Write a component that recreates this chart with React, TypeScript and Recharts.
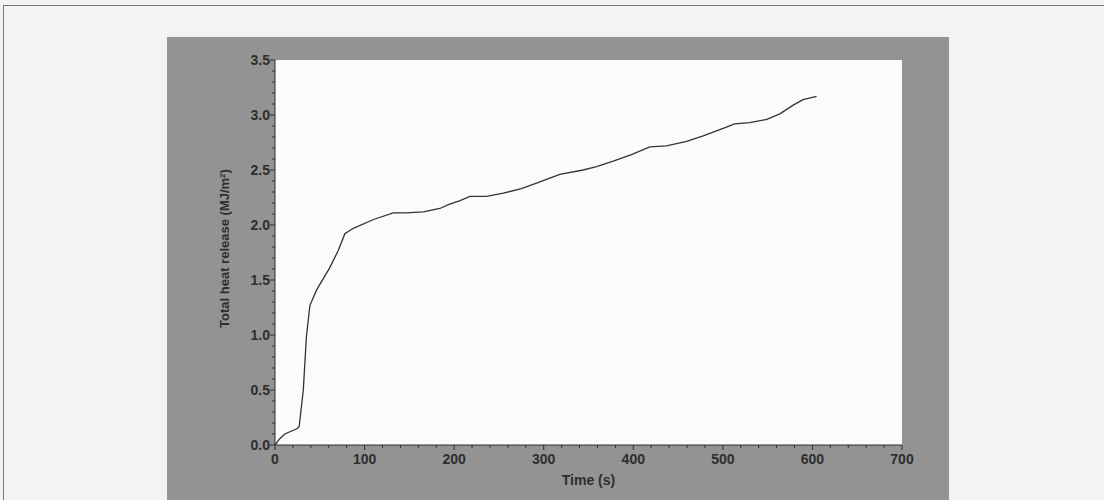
import React from 'react';
import { LineChart, Line, XAxis, YAxis, CartesianGrid } from 'recharts';

// Time (s) vs total heat release (MJ/m²)
const timeS = [0, 5.6, 11, 25, 27, 31.6, 35, 39, 46.5, 61, 70.7, 78, 87.4, 110, 132, 146, 165.5, 184, 195, 206, 217.6, 236, 255, 275, 292, 318, 344, 359, 377.6, 398, 418.5, 437, 459.5, 478, 504, 513, 530, 549, 563.6, 578.5, 589.6, 604.6];
const totalHeat = [0, 0.06, 0.1, 0.15, 0.17, 0.5, 0.98, 1.27, 1.41, 1.61, 1.77, 1.92, 1.97, 2.05, 2.11, 2.11, 2.12, 2.15, 2.19, 2.22, 2.26, 2.26, 2.29, 2.33, 2.38, 2.46, 2.5, 2.53, 2.58, 2.64, 2.71, 2.72, 2.76, 2.81, 2.89, 2.92, 2.93, 2.96, 3.01, 3.09, 3.14, 3.17];

const xMajor = [0, 100, 200, 300, 400, 500, 600, 700];
const yMajor = [0, 0.5, 1.0, 1.5, 2.0, 2.5, 3.0, 3.5];

// minor ticks every 20 s and every 0.1 MJ/m²
const xTicks = Array.from({ length: 36 }, (_, i) => i * 20);
const yTicks = Array.from({ length: 36 }, (_, i) => i / 10);

const data = timeS.map((t, i) => ({ t, thr: totalHeat[i] }));

const INK = '#2e2e2e';
const FONT = '"Liberation Sans", Arial, sans-serif';
const TICK_SIZE = 5;
const TICK_MARGIN = 3;

const isMajor = (v: number, majors: number[]) => majors.some(m => Math.abs(m - v) < 1e-6);

// tick line + label; minor ticks are shorter and unlabeled
const XTick = (props: any) => {
  const { x, y, payload } = props;
  const axisY = y - TICK_SIZE - TICK_MARGIN;
  const major = isMajor(payload.value, xMajor);
  return (
    <g>
      <line x1={x} x2={x} y1={axisY} y2={axisY + (major ? 5 : 3)} stroke={INK} />
      {major && (
        <text x={x} y={axisY + 19} textAnchor="middle" fill={INK} fontSize={14} fontWeight="bold" fontFamily={FONT}>
          {payload.value}
        </text>
      )}
    </g>
  );
};

const YTick = (props: any) => {
  const { x, y, payload } = props;
  const axisX = x + TICK_SIZE + TICK_MARGIN;
  const major = isMajor(payload.value, yMajor);
  return (
    <g>
      <line x1={axisX} x2={axisX - (major ? 5 : 3)} y1={y} y2={y} stroke={INK} />
      {major && (
        <text x={axisX - 5} y={y + 5} textAnchor="end" fill={INK} fontSize={14} fontWeight="bold" fontFamily={FONT}>
          {payload.value.toFixed(1)}
        </text>
      )}
    </g>
  );
};

const YTitle = (props: any) => {
  const { viewBox } = props;
  const cx = viewBox.x + 14;
  const cy = viewBox.y + viewBox.height / 2 - 4;
  return (
    <text x={cx} y={cy} transform={`rotate(-90, ${cx}, ${cy})`} textAnchor="middle" fill={INK} fontSize={13} fontWeight="bold" fontFamily={FONT}>
      Total heat release (MJ/m<tspan dy={-4} fontSize={8}>2</tspan><tspan dy={4}>)</tspan>
    </text>
  );
};

const XTitle = (props: any) => {
  const { viewBox } = props;
  return (
    <text x={viewBox.x + viewBox.width / 2} y={viewBox.y + 40} textAnchor="middle" fill={INK} fontSize={14} fontWeight="bold" fontFamily={FONT}>
      Time (s)
    </text>
  );
};

export default function App() {
  return (
    <div style={{ position: 'absolute', left: 0, top: 0, width: 1104, height: 500, background: '#f3f3f3', overflow: 'hidden' }}>
      <div style={{ position: 'absolute', left: 3, top: 5, width: 1110, height: 510, border: '1px solid #777' }} />
      <div style={{ position: 'absolute', left: 167, top: 37, width: 782, height: 463, background: '#939393' }}>
        <LineChart width={782} height={463} data={data} margin={{ top: 23, right: 47, bottom: 25, left: 48 }}>
          <CartesianGrid horizontal={false} vertical={false} fill="#fbfbfb" />
          <XAxis
            type="number"
            dataKey="t"
            domain={[0, 700]}
            ticks={xTicks}
            interval={0}
            height={30}
            stroke={INK}
            tickLine={false}
            tickSize={TICK_SIZE}
            tickMargin={TICK_MARGIN}
            tick={<XTick />}
            label={<XTitle />}
          />
          <YAxis
            type="number"
            domain={[0, 3.5]}
            ticks={yTicks}
            interval={0}
            width={60}
            stroke={INK}
            tickLine={false}
            tickSize={TICK_SIZE}
            tickMargin={TICK_MARGIN}
            tick={<YTick />}
            label={<YTitle />}
          />
          <Line type="linear" dataKey="thr" stroke="#333" strokeWidth={1.3} dot={false} isAnimationActive={false} />
        </LineChart>
      </div>
    </div>
  );
}
